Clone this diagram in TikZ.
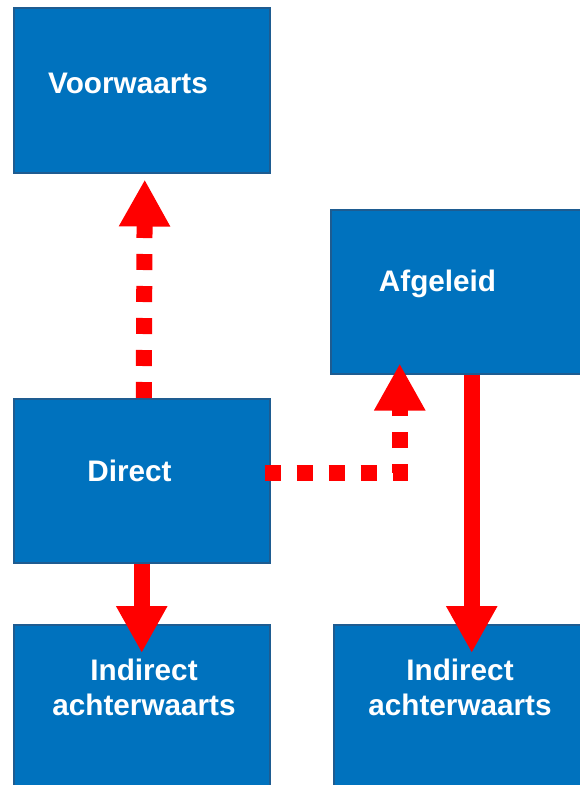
\documentclass[tikz,border=0pt]{standalone}
\usepackage{fontspec}
\setmainfont{Liberation Sans}
\usetikzlibrary{arrows.meta}
\definecolor{boxfill}{RGB}{0,114,190}
\definecolor{boxline}{RGB}{30,92,145}
\definecolor{arrred}{RGB}{255,0,0}
\tikzset{
  box/.style={draw=boxline, fill=boxfill, line width=1.5pt, rectangle, inner sep=0pt},
  lbl/.style={text=white, font=\bfseries\fontsize{29.7}{35}\selectfont, inner sep=0pt, align=center},
  solidarrow/.style={draw=arrred, line width=16pt, -{Triangle[length=47pt,width=48pt]}},
  dotarrow/.style={draw=arrred, line width=16pt, dash pattern=on 16pt off 16pt, -{Triangle[length=47pt,width=48pt]}}
}
\begin{document}
\begin{tikzpicture}[x=1pt,y=1pt]
\useasboundingbox (0,0) rectangle (580,-785);
\clip (0,0) rectangle (580,-785);
% boxes
\node[box, minimum width=256pt, minimum height=165pt, anchor=north west] (v) at (13,-7) {};
\node[box, minimum width=260pt, minimum height=164pt, anchor=north west] (a) at (330,-209) {};
\node[box, minimum width=256pt, minimum height=164pt, anchor=north west] (d) at (13,-398) {};
\node[box, minimum width=256pt, minimum height=171pt, anchor=north west] (il) at (13,-624) {};
\node[box, minimum width=257pt, minimum height=171pt, anchor=north west] (ir) at (333,-624) {};
% arrows
\draw[dotarrow] ([xshift=2pt]d.north) -- ([xshift=3pt,yshift=-6pt]v.south);
\draw[dotarrow] ([xshift=-6pt,yshift=8pt]d.east) -| ([xshift=-61pt,yshift=11pt]a.south);
\draw[solidarrow] (d.south) -- ([yshift=-29pt]il.north);
\draw[solidarrow] ([xshift=11pt]a.south) -- ([xshift=9.5pt,yshift=-29pt]ir.north);
% labels
\node[lbl, anchor=base] (tv) at (128,-93) {Voorwaarts};
\node[lbl, anchor=base] (ta) at (437.5,-291) {Afgeleid};
\node[lbl, anchor=base] (td) at (129.5,-481) {Direct};
\node[lbl, anchor=north] (til) at (144,-659) {Indirect\\achterwaarts};
\node[lbl, anchor=north] (tir) at (460,-659) {Indirect\\achterwaarts};
\end{tikzpicture}
\end{document}
